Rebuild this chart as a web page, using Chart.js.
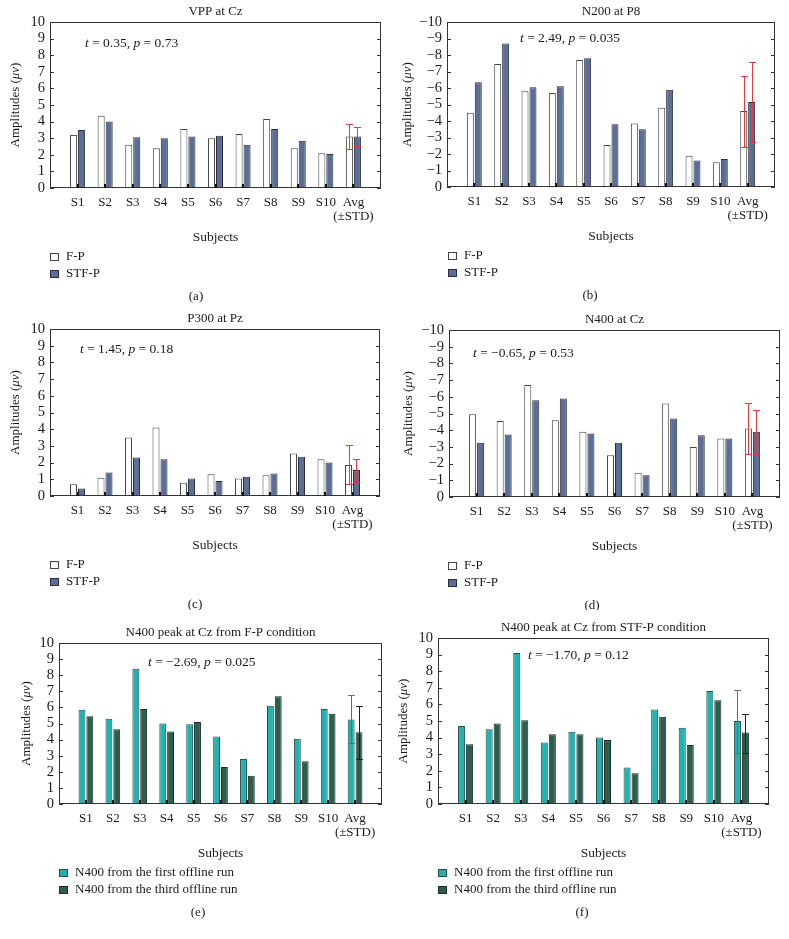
<!DOCTYPE html>
<html>
<head>
<meta charset="utf-8">
<script src="https://cdn.jsdelivr.net/npm/chart.js@4.4.1/dist/chart.umd.min.js"></script>
<style>
  body { margin: 0; background: #fff; width: 789px; height: 939px; position: relative; overflow: hidden; }
  canvas { position: absolute; }
</style>
</head>
<body>
<script>
// Categories
const subjects = ['S1', 'S2', 'S3', 'S4', 'S5', 'S6', 'S7', 'S8', 'S9', 'S10', ['Avg', '(±STD)']];
const posTicks = [0, 1, 2, 3, 4, 5, 6, 7, 8, 9, 10];
const negTicks = [0, -1, -2, -3, -4, -5, -6, -7, -8, -9, -10];

// (a) VPP at Cz
const vppFP = [3.2, 4.35, 2.6, 2.4, 3.55, 3.0, 3.25, 4.15, 2.4, 2.1, 3.1];
const vppSTF = [3.5, 4.0, 3.05, 3.0, 3.1, 3.15, 2.6, 3.55, 2.85, 2.05, 3.1];
const vppErrFP = [2.35, 3.85];
const vppErrSTF = [2.55, 3.65];

// (b) N200 at P8
const n200FP = [-4.5, -7.45, -5.8, -5.7, -7.7, -2.55, -3.85, -4.8, -1.9, -1.5, -4.6];
const n200STF = [-6.35, -8.7, -6.05, -6.1, -7.8, -3.8, -3.5, -5.9, -1.6, -1.7, -5.15];
const n200ErrFP = [-2.4, -6.75];
const n200ErrSTF = [-2.75, -7.55];

// (c) P300 at Pz
const p300FP = [0.7, 1.1, 3.5, 4.1, 0.8, 1.3, 1.05, 1.25, 2.55, 2.2, 1.85];
const p300STF = [0.45, 1.4, 2.3, 2.2, 1.05, 0.9, 1.15, 1.35, 2.35, 2.0, 1.55];
const p300ErrFP = [0.7, 3.05];
const p300ErrSTF = [0.85, 2.2];

// (d) N400 at Cz
const n400FP = [-4.95, -4.55, -6.7, -4.6, -3.9, -2.5, -1.45, -5.6, -3.0, -3.5, -4.1];
const n400STF = [-3.25, -3.75, -5.8, -5.9, -3.8, -3.25, -1.3, -4.7, -3.7, -3.5, -3.9];
const n400ErrFP = [-2.55, -5.6];
const n400ErrSTF = [-2.55, -5.2];

// (e) N400 peak at Cz from F-P condition
const fpRun1 = [5.85, 5.3, 8.4, 5.0, 4.95, 4.2, 2.8, 6.1, 4.05, 5.9, 5.25];
const fpRun3 = [5.45, 4.65, 5.9, 4.5, 5.1, 2.3, 1.75, 6.7, 2.65, 5.6, 4.45];
const fpErrRun1 = [3.8, 6.75];
const fpErrRun3 = [2.8, 6.1];

// (f) N400 peak at Cz from STF-P condition
const stfRun1 = [4.7, 4.5, 9.1, 3.7, 4.35, 4.0, 2.2, 5.7, 4.6, 6.8, 5.0];
const stfRun3 = [3.6, 4.85, 5.05, 4.2, 4.2, 3.85, 1.85, 5.25, 3.55, 6.25, 4.3];
const stfErrRun1 = [3.1, 6.85];
const stfErrRun3 = [3.1, 5.45];

const SERIF = '"Liberation Serif", "DejaVu Serif", serif';
const condLegend = ['F-P', 'STF-P'];
const runLegend = ['N400 from the first offline run', 'N400 from the third offline run'];
const condFill = ['#ffffff', '#5b6e98'];
const condEdge = ['#444', '#2a2f3a'];
const condErr = ['#e03a3e', '#e03a3e'];
const runFill = ['#1fb3b1', '#2d5e4b'];
const runEdge = ['#2b4a48', '#1a2e26'];
const runErr = ['#6a6a6a', '#222'];

const panels = [
  { ox: 0, oy: 0, w: 394, h: 310, L: 50, T: 22, R: 381, B: 188, neg: false,
    title: 'VPP at Cz', stat: 't = 0.35, p = 0.73', statX: 85, statY: 43, yTitleX: 16,
    legX: 50, tag: '(a)', tagX: 196, series: [vppFP, vppSTF], err: [vppErrFP, vppErrSTF],
    legend: condLegend, fill: condFill, edge: condEdge, errColor: condErr },
  { ox: 395, oy: 0, w: 394, h: 310, L: 447, T: 22, R: 775, B: 187, neg: true,
    title: 'N200 at P8', stat: 't = 2.49, p = 0.035', statX: 520, statY: 38, yTitleX: 408,
    legX: 448, tag: '(b)', tagX: 590, series: [n200FP, n200STF], err: [n200ErrFP, n200ErrSTF],
    legend: condLegend, fill: condFill, edge: condEdge, errColor: condErr },
  { ox: 0, oy: 310, w: 394, h: 300, L: 50, T: 329, R: 380, B: 496, neg: false,
    title: 'P300 at Pz', stat: 't = 1.45, p = 0.18', statX: 80, statY: 349, yTitleX: 16,
    legX: 50, tag: '(c)', tagX: 195, series: [p300FP, p300STF], err: [p300ErrFP, p300ErrSTF],
    legend: condLegend, fill: condFill, edge: condEdge, errColor: condErr },
  { ox: 395, oy: 310, w: 394, h: 300, L: 449, T: 330, R: 780, B: 497, neg: true,
    title: 'N400 at Cz', stat: 't = \u22120.65, p = 0.53', statX: 473, statY: 353, yTitleX: 409,
    legX: 448, tag: '(d)', tagX: 592, series: [n400FP, n400STF], err: [n400ErrFP, n400ErrSTF],
    legend: condLegend, fill: condFill, edge: condEdge, errColor: condErr },
  { ox: 0, oy: 600, w: 394, h: 339, L: 59, T: 643, R: 382, B: 804, neg: false,
    title: 'N400 peak at Cz from F-P condition', stat: 't = \u22122.69, p = 0.025', statX: 148, statY: 662, yTitleX: 27,
    legX: 59, tag: '(e)', tagX: 198, series: [fpRun1, fpRun3], err: [fpErrRun1, fpErrRun3],
    legend: runLegend, fill: runFill, edge: runEdge, errColor: runErr },
  { ox: 395, oy: 600, w: 394, h: 339, L: 438, T: 638, R: 769, B: 804, neg: false,
    title: 'N400 peak at Cz from STF-P condition', stat: 't = \u22121.70, p = 0.12', statX: 528, statY: 655, yTitleX: 404,
    legX: 438, tag: '(f)', tagX: 582, series: [stfRun1, stfRun3], err: [stfErrRun1, stfErrRun3],
    legend: runLegend, fill: runFill, edge: runEdge, errColor: runErr }
];

// draw text where some pieces are italic, pieces = [[text, italic], ...]
function drawRich(ctx, pieces, x, y, size) {
  let cx = x;
  pieces.forEach(([txt, it]) => {
    ctx.font = (it ? 'italic ' : '') + size + 'px ' + SERIF;
    ctx.fillText(txt, cx, y);
    cx += ctx.measureText(txt).width;
  });
}
function richWidth(ctx, pieces, size) {
  let w = 0;
  pieces.forEach(([txt, it]) => {
    ctx.font = (it ? 'italic ' : '') + size + 'px ' + SERIF;
    w += ctx.measureText(txt).width;
  });
  return w;
}

function makePanelPlugin(p) {
  return {
    id: 'panelDecor',
    afterDatasetsDraw(chart) {
      const { ctx, chartArea: a, scales: { x, y } } = chart;
      ctx.save();
      ctx.strokeStyle = '#333';
      ctx.lineWidth = 1;
      ctx.strokeRect(a.left + 0.5, a.top + 0.5, a.width - 1, a.height - 1);
      // inward y ticks on both sides
      y.ticks.forEach(t => {
        const py = Math.round(y.getPixelForValue(t.value)) + 0.5;
        ctx.beginPath();
        ctx.moveTo(a.left, py); ctx.lineTo(a.left + 4, py);
        ctx.moveTo(a.right - 4, py); ctx.lineTo(a.right, py);
        ctx.stroke();
      });
      // small category marks at the bottom
      ctx.fillStyle = '#111';
      subjects.forEach((s, i) => {
        const px = x.getPixelForValue(i + 1);
        ctx.fillRect(Math.round(px) - 1, a.bottom - 4, 2, 4);
      });
      // error bars on the average pair
      const avgIdx = subjects.length;
      p.err.forEach((e, di) => {
        const bar = chart.getDatasetMeta(di).data[avgIdx];
        const bx = Math.round(bar.x) + 0.5;
        const hw = bar.width / 2;
        const y1 = Math.round(y.getPixelForValue(e[0])) + 0.5;
        const y2 = Math.round(y.getPixelForValue(e[1])) + 0.5;
        ctx.strokeStyle = p.errColor[di];
        ctx.lineWidth = 1;
        ctx.beginPath();
        ctx.moveTo(bx, y1); ctx.lineTo(bx, y2);
        ctx.moveTo(bx - hw, y1); ctx.lineTo(bx + hw, y1);
        ctx.moveTo(bx - hw, y2); ctx.lineTo(bx + hw, y2);
        ctx.stroke();
      });
      ctx.restore();
    },
    afterDraw(chart) {
      const { ctx, chartArea: a } = chart;
      const midX = (a.left + a.right) / 2;
      ctx.save();
      ctx.fillStyle = '#1a1a1a';
      ctx.textBaseline = 'middle';
      // title, axis name, panel tag
      ctx.textAlign = 'center';
      ctx.font = '13px ' + SERIF;
      ctx.fillText(p.title, midX, a.top - 10);
      ctx.fillText(p.tag, p.tagX - p.ox, a.bottom + 109);
      ctx.font = '13.5px ' + SERIF;
      ctx.fillText('Subjects', midX, a.bottom + 49);
      // statistic
      ctx.textAlign = 'left';
      const parts = p.stat.split(/\b([tp])\b/).filter(s => s !== '').map(s => [s, s === 't' || s === 'p']);
      drawRich(ctx, parts, p.statX - p.ox, p.statY - p.oy, 13.5);
      // y axis title
      const yt = [['Amplitudes (', false], ['\u03bcv', true], [')', false]];
      const w = richWidth(ctx, yt, 13);
      ctx.save();
      ctx.translate(p.yTitleX - p.ox, (a.top + a.bottom) / 2);
      ctx.rotate(-Math.PI / 2);
      drawRich(ctx, yt, -w / 2, 0, 13);
      ctx.restore();
      // legend
      ctx.font = '13px ' + SERIF;
      p.legend.forEach((lbl, i) => {
        const ly = a.bottom + 69 + i * 17;
        const lx = p.legX - p.ox;
        ctx.fillStyle = p.fill[i];
        ctx.fillRect(lx + 0.5, ly - 3.5, 8, 7);
        ctx.strokeStyle = p.edge[i];
        ctx.lineWidth = 1;
        ctx.strokeRect(lx + 0.5, ly - 3.5, 8, 7);
        ctx.fillStyle = '#1a1a1a';
        ctx.fillText(lbl, lx + 16, ly);
      });
      ctx.restore();
    }
  };
}

panels.forEach(p => {
  const c = document.createElement('canvas');
  c.width = p.w; c.height = p.h;
  c.style.left = p.ox + 'px';
  c.style.top = p.oy + 'px';
  c.style.width = p.w + 'px';
  c.style.height = p.h + 'px';
  document.body.appendChild(c);

  const xAxisH = 40;
  const labels = ['', ...subjects, ''];
  const yTicks = p.neg ? negTicks : posTicks;

  new Chart(c, {
    type: 'bar',
    data: {
      labels: labels,
      datasets: p.series.map((s, i) => ({
        label: p.legend[i],
        data: [null, ...s, null],
        backgroundColor: p.fill[i],
        borderColor: p.edge[i],
        borderWidth: 1,
        categoryPercentage: 0.58,
        barPercentage: 0.88
      }))
    },
    options: {
      responsive: false,
      animation: false,
      devicePixelRatio: 1,
      layout: {
        padding: { left: 0, top: p.T - p.oy, right: p.ox + p.w - p.R, bottom: p.oy + p.h - p.B - xAxisH }
      },
      plugins: { legend: { display: false }, tooltip: { enabled: false }, title: { display: false } },
      scales: {
        x: {
          type: 'category',
          offset: false,
          grid: { display: false, drawTicks: false },
          border: { display: false },
          ticks: { autoSkip: false, maxRotation: 0, padding: 7, color: '#1a1a1a',
                   font: { family: SERIF, size: 13, lineHeight: 1.1 } },
          afterFit: s => { s.height = xAxisH; }
        },
        y: {
          min: p.neg ? -10 : 0,
          max: p.neg ? 0 : 10,
          reverse: p.neg,
          grid: { display: false, drawTicks: false },
          border: { display: false },
          afterBuildTicks: s => { s.ticks = yTicks.map(v => ({ value: v })); },
          ticks: { autoSkip: false, padding: 5, color: '#1a1a1a', font: { family: SERIF, size: 14.5 },
                   callback: v => (v < 0 ? '\u2212' + Math.abs(v) : String(v)) },
          afterFit: s => { s.width = p.L - p.ox; }
        }
      }
    },
    plugins: [makePanelPlugin(p)]
  });
});
</script>
</body>
</html>
